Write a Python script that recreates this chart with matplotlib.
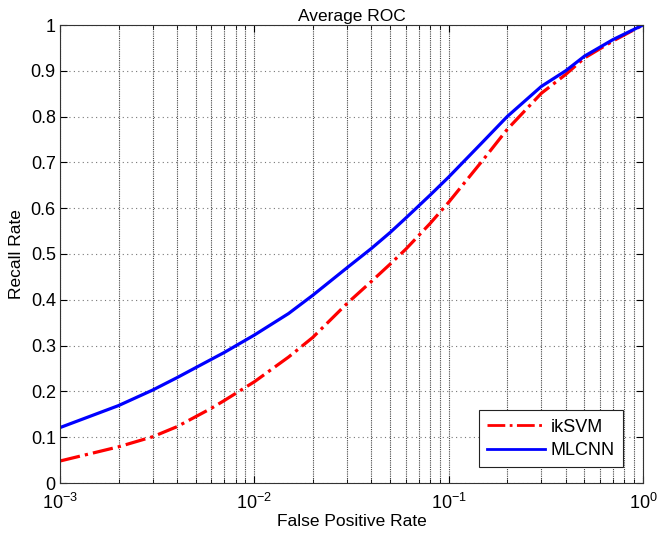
import matplotlib
matplotlib.use("Agg")
import matplotlib.pyplot as plt
import numpy as np
from matplotlib.ticker import LogLocator, NullFormatter

plt.rcParams['font.family'] = ['Liberation Sans', 'DejaVu Sans']
plt.rcParams['mathtext.fontset'] = 'custom'
plt.rcParams['mathtext.rm'] = 'Liberation Sans'
plt.rcParams['mathtext.it'] = 'Liberation Sans:italic'

fpr_svm = [1e-3, 2e-3, 3e-3, 4e-3, 5e-3, 6e-3, 7e-3, 1e-2, 1.5e-2, 2e-2, 3e-2, 4e-2, 5e-2, 6e-2, 8e-2, 0.1, 0.15, 0.2, 0.3, 0.4, 0.5, 0.7, 1.0]
tpr_svm = [0.048, 0.079, 0.101, 0.123, 0.145, 0.163, 0.18, 0.221, 0.275, 0.318, 0.392, 0.44, 0.478, 0.51, 0.566, 0.613, 0.705, 0.772, 0.851, 0.892, 0.928, 0.965, 1.0]

fpr_cnn = [1e-3, 2e-3, 3e-3, 4e-3, 5e-3, 7e-3, 1e-2, 1.5e-2, 2e-2, 3e-2, 4e-2, 5e-2, 6e-2, 8e-2, 0.1, 0.15, 0.2, 0.3, 0.4, 0.5, 0.7, 1.0]
tpr_cnn = [0.121, 0.169, 0.203, 0.23, 0.252, 0.285, 0.323, 0.37, 0.41, 0.47, 0.512, 0.547, 0.578, 0.628, 0.668, 0.745, 0.8, 0.866, 0.90, 0.932, 0.968, 1.0]

labels = ['ikSVM', 'MLCNN']

fig = plt.figure(figsize=(6.57, 5.36), dpi=100)
ax = fig.add_axes([60/657, 53/536, 583/657, 458/536])

ax.plot(fpr_svm, tpr_svm, color='#ff0000', linestyle='-.', lw=2.3, label=labels[0])
ax.plot(fpr_cnn, tpr_cnn, color='#0000ff', linestyle='-', lw=2.3, label=labels[1])

ax.set_xscale('log')
ax.set_xlim(1e-3, 1)
ax.set_ylim(0, 1)
ax.set_yticks(np.arange(0, 1.01, 0.1))
ax.set_yticklabels(['0', '0.1', '0.2', '0.3', '0.4', '0.5', '0.6', '0.7', '0.8', '0.9', '1'])
ax.xaxis.set_minor_locator(LogLocator(base=10, subs=np.arange(2, 10)))
ax.xaxis.set_minor_formatter(NullFormatter())

ax.grid(True, axis='x', which='both', color='#444444', linestyle=(0, (1, 1)), lw=0.8)
ax.grid(True, axis='y', which='major', color='#777777', linestyle=(0, (1, 3)), lw=0.8)

ax.tick_params(which='both', direction='in', top=True, right=True, labelsize=13)
ax.tick_params(axis='y', pad=3)
ax.tick_params(axis='x', pad=7)
ax.tick_params(which='major', length=5)
ax.tick_params(which='minor', length=3)
for s in ax.spines.values():
    s.set_color('#333333')

ax.set_title('Average ROC', fontsize=12.5, pad=3)
ax.set_xlabel('False Positive Rate', fontsize=12.5, labelpad=1)
ax.set_ylabel('Recall Rate', fontsize=12.5, labelpad=5)

leg = ax.legend(loc='lower right', bbox_to_anchor=(0.965, 0.035), fontsize=13,
                frameon=True, fancybox=False, framealpha=1, edgecolor='#222222',
                handlelength=3.2, borderpad=0.45, labelspacing=0.35, handletextpad=0.3,
                borderaxespad=0.0)
leg.get_frame().set_linewidth(0.8)
for h in leg.get_lines():
    h.set_linewidth(2.0)

fig.savefig('out.png', dpi=100)
